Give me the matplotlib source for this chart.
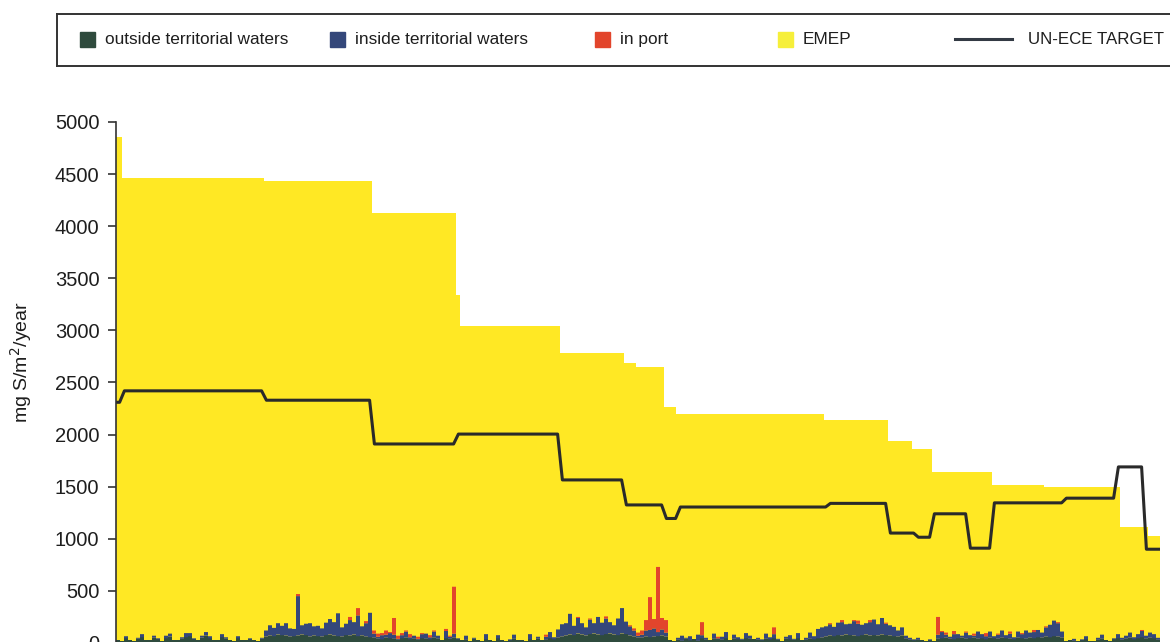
import numpy as np
import matplotlib
matplotlib.use("Agg")
import matplotlib.pyplot as plt
from matplotlib.patches import Rectangle
from matplotlib.lines import Line2D

plt.rcParams['font.family'] = ['Liberation Sans', 'DejaVu Sans']

# EMEP background deposition (step per coastal grid segment)
emep_edges = [0, 1.5, 37, 64, 85, 86, 111, 127, 130, 137, 140, 177, 193, 199, 204, 219, 232, 251, 258, 261]
emep_values = [4855, 4460, 4430, 4125, 3340, 3040, 2780, 2690, 2650, 2265, 2200, 2140, 1940, 1860,
               1640, 1515, 1500, 1115, 1025]

# UN-ECE critical load target
target_edges = [0, 1.5, 37, 64, 85, 111, 127, 137, 140.5, 178, 193, 200, 204, 213, 219, 237, 250, 257, 261]
target_values = [2310, 2420, 2330, 1910, 2005, 1565, 1325, 1195, 1305, 1340, 1055, 1015, 1240, 910,
                 1345, 1390, 1690, 900]

# ship contributions per grid cell
outside_waters = [
    30, 20, 45, 25, 20, 40, 55, 25, 25, 50, 35, 20, 45, 60, 30, 25, 40, 55, 65, 35,
    25, 50, 70, 45, 30, 25, 55, 40, 25, 20, 45, 30, 25, 35, 25, 20, 40,
    60, 70, 65, 80, 75, 70, 60, 65, 70, 80, 75, 60, 70, 65, 60, 75, 80, 70, 65, 60,
    75, 70, 80, 65, 70, 60, 55, 50,
    40, 35, 50, 45, 40, 30, 45, 50, 35, 40, 30, 45, 40, 35, 50, 40, 30, 45, 40, 50, 35,
    25, 30, 20, 40, 25, 20, 35, 25, 20, 45, 30, 20, 25, 40, 25, 30, 20, 35, 25, 40,
    25, 30, 45, 35, 50, 60,
    70, 80, 75, 90, 80, 70, 85, 90, 80, 75, 85, 90, 80, 75, 90, 85, 70, 60, 50, 50,
    60, 55, 60, 65, 70, 60,
    25, 20, 30, 20, 40, 25, 35, 20, 45, 30, 25, 40, 35, 30, 45, 25, 40, 35, 30, 45,
    40, 35, 30, 25, 40, 35, 45, 30, 20, 40, 35, 30, 45, 25, 30, 40, 35, 45, 50,
    60, 70, 65, 75, 70, 80, 75, 70, 65, 75, 80, 70, 75, 70, 80, 75, 70, 65, 60, 70,
    40, 30, 25, 30,
    25, 20, 25, 15,
    40, 45, 50, 40, 35, 45, 50, 40, 45, 50, 40, 45, 35, 50, 45, 40, 50, 45, 40, 35,
    50, 45, 40, 50, 45, 55, 50, 60, 55, 65, 60, 50,
    20, 30, 20, 20, 25, 35, 20, 20, 30, 40, 25, 20, 35, 45, 30, 40, 50, 35, 45, 55,
    40, 50, 45, 30,
]
inside_waters = [
    0, 0, 20, 0, 0, 10, 30, 0, 0, 20, 10, 0, 25, 30, 0, 0, 15, 40, 30, 10,
    0, 20, 35, 20, 0, 0, 30, 15, 0, 0, 20, 0, 0, 10, 0, 0, 10,
    60, 100, 80, 110, 90, 120, 80, 70, 380, 90, 110, 130, 90, 100, 80, 120, 150, 130, 220, 90,
    110, 150, 120, 200, 90, 130, 235, 40,
    20, 40, 30, 50, 40, 10, 30, 60, 20, 30, 10, 40, 50, 20, 60, 30, 0, 70, 20, 40, 10,
    0, 40, 0, 10, 0, 0, 50, 0, 0, 30, 0, 0, 10, 40, 0, 0, 0, 50, 0, 20,
    0, 30, 60, 20, 80, 120,
    120, 200, 90, 150, 110, 80, 140, 100, 170, 120, 150, 110, 90, 160, 245, 120, 90, 60, 20, 30,
    60, 70, 80, 40, 60, 40,
    0, 0, 20, 50, 10, 40, 0, 60, 30, 20, 0, 50, 10, 30, 60, 0, 40, 20, 10, 50,
    30, 0, 20, 10, 50, 20, 40, 10, 0, 20, 40, 10, 50, 0, 20, 60, 30, 90, 100,
    100, 110, 90, 120, 130, 100, 110, 140, 120, 100, 110, 130, 150, 110, 160, 110, 100, 90, 60, 80,
    30, 20, 10, 20,
    0, 0, 10, 0,
    40, 60, 30, 20, 50, 40, 20, 60, 30, 20, 70, 40, 30, 60, 20, 40, 70, 30, 50, 20,
    60, 40, 80, 50, 60, 70, 50, 90, 120, 150, 130, 60,
    0, 0, 20, 0, 10, 30, 0, 0, 20, 40, 0, 0, 10, 40, 20, 30, 50, 20, 40, 60,
    30, 50, 40, 20,
]
in_port = [
    0] * 37 + [
    0, 0, 0, 0, 0, 0, 0, 0, 20, 0, 0, 0, 0, 0, 0, 0, 0, 0, 0, 0,
    0, 30, 0, 70, 0, 20, 0, 30,
    30, 20, 40, 10, 160, 30, 20, 10, 30, 0, 20, 10, 0, 20, 10, 0, 0, 20, 10, 450, 0,
    0, 0, 0, 0, 0, 0, 0, 0, 0, 0, 0, 0, 0, 0, 0, 0, 0, 0, 0, 0,
    0, 20, 0, 0, 0, 0,
    0, 0, 0, 10, 0, 0, 10, 0, 0, 0, 20, 0, 0, 0, 0, 0, 10, 20, 30, 40,
    100, 315, 90, 625, 110, 120,
    0, 0, 0, 0, 0, 0, 0, 0, 125, 0, 0, 0, 15, 0, 0, 0, 0, 0, 0, 0,
    0, 0, 0, 0, 0, 0, 65, 0, 0, 0, 0, 0, 0, 0, 0, 0, 0, 0, 0,
    0, 10, 0, 0, 20, 0, 0, 10, 30, 0, 0, 20, 0, 0, 0, 10, 0, 0, 0, 0,
    0, 0, 0, 0,
    0, 0, 0, 0,
    170, 10, 20, 0, 30, 0, 0, 10, 0, 20, 0, 0, 30, 0, 0, 10, 0, 0, 20, 0,
    0, 10, 0, 0, 20, 0, 0, 10, 0, 0, 10, 0,
    0, 0, 0, 0, 0, 0, 0, 0, 0, 0, 0, 0, 0, 0, 0, 0, 0, 0, 0, 10,
    0, 0, 0, 0,
]

legend_labels = ["outside territorial waters", "inside territorial waters", "in port", "EMEP",
                 "UN-ECE TARGET"]

c_outside = "#2f4b3d"
c_inside = "#34477a"
c_port = "#e2452c"
c_emep = "#ffe824"
c_emep_legend = "#f6ef3a"
c_target = "#2a2a2a"


def main():
    W, H = 1170, 642
    fig = plt.figure(figsize=(W / 100, H / 100), dpi=100)

    left, right, top, zero = 116, 1160, 122, 643
    ax = fig.add_axes([left / W, 1 - zero / H, (right - left) / W, (zero - top) / H])

    edges = np.arange(len(outside_waters) + 1)
    o = np.array(outside_waters, dtype=float)
    i = np.array(inside_waters, dtype=float)
    p = np.array(in_port, dtype=float)

    ax.stairs(emep_values, emep_edges, fill=True, color=c_emep, zorder=1)
    ax.stairs(o, edges, fill=True, color=c_outside, zorder=2)
    ax.stairs(o + i, edges, baseline=o, fill=True, color=c_inside, zorder=2)
    ax.stairs(o + i + p, edges, baseline=o + i, fill=True, color=c_port, zorder=2)

    # target line with short ramps between segments
    xs, ys = [], []
    n = len(target_values)
    for k, v in enumerate(target_values):
        a = target_edges[k] + (0.6 if k > 0 else 0)
        b = target_edges[k + 1] - (0.6 if k < n - 1 else 0)
        xs += [a, b]
        ys += [v, v]
    ax.plot(xs, ys, color=c_target, lw=2.2, zorder=3, solid_joinstyle="round")

    ax.set_xlim(0, 261)
    ax.set_ylim(0, 5000)
    ax.set_yticks(range(0, 5001, 500))
    ax.set_xticks([])
    for s in ["top", "right", "bottom"]:
        ax.spines[s].set_visible(False)
    ax.spines["left"].set_color("#333333")
    ax.spines["left"].set_linewidth(1.2)
    ax.spines["left"].set_zorder(4)
    ax.tick_params(axis="y", length=6, width=1.2, color="#333333", pad=6,
                   labelsize=14.5, labelcolor="#1e1e1e")
    ax.set_ylabel("mg S/m$^2$/year", fontsize=14, color="#1e1e1e")
    ax.yaxis.set_label_coords((34 - left) / (right - left), 0.54)

    # legend box
    lax = fig.add_axes([57 / W, 1 - 66 / H, (1185 - 57) / W, 52 / H])
    lax.set_xlim(57, 1185)
    lax.set_ylim(66, 14)
    lax.set_xticks([])
    lax.set_yticks([])
    for s in lax.spines.values():
        s.set_color("#333333")
        s.set_linewidth(1.4)
    cy = 39
    base = cy + 5
    patch_x = [80, 330, 595, 778]
    colors = [c_outside, c_inside, c_port, c_emep_legend]
    for px, col, lab in zip(patch_x, colors, legend_labels[:4]):
        lax.add_patch(Rectangle((px, cy - 7.5), 15, 15, color=col))
        lax.text(px + 25, base, lab, fontsize=12.4, va="baseline", ha="left", color="#1e1e1e")
    lax.add_line(Line2D([955, 1012], [cy, cy], color="#333a44", lw=2.2))
    lax.text(1028, base, legend_labels[4], fontsize=12.2, va="baseline", ha="left", color="#1e1e1e")

    fig.savefig("out.png", dpi=100)


if __name__ == "__main__":
    main()
